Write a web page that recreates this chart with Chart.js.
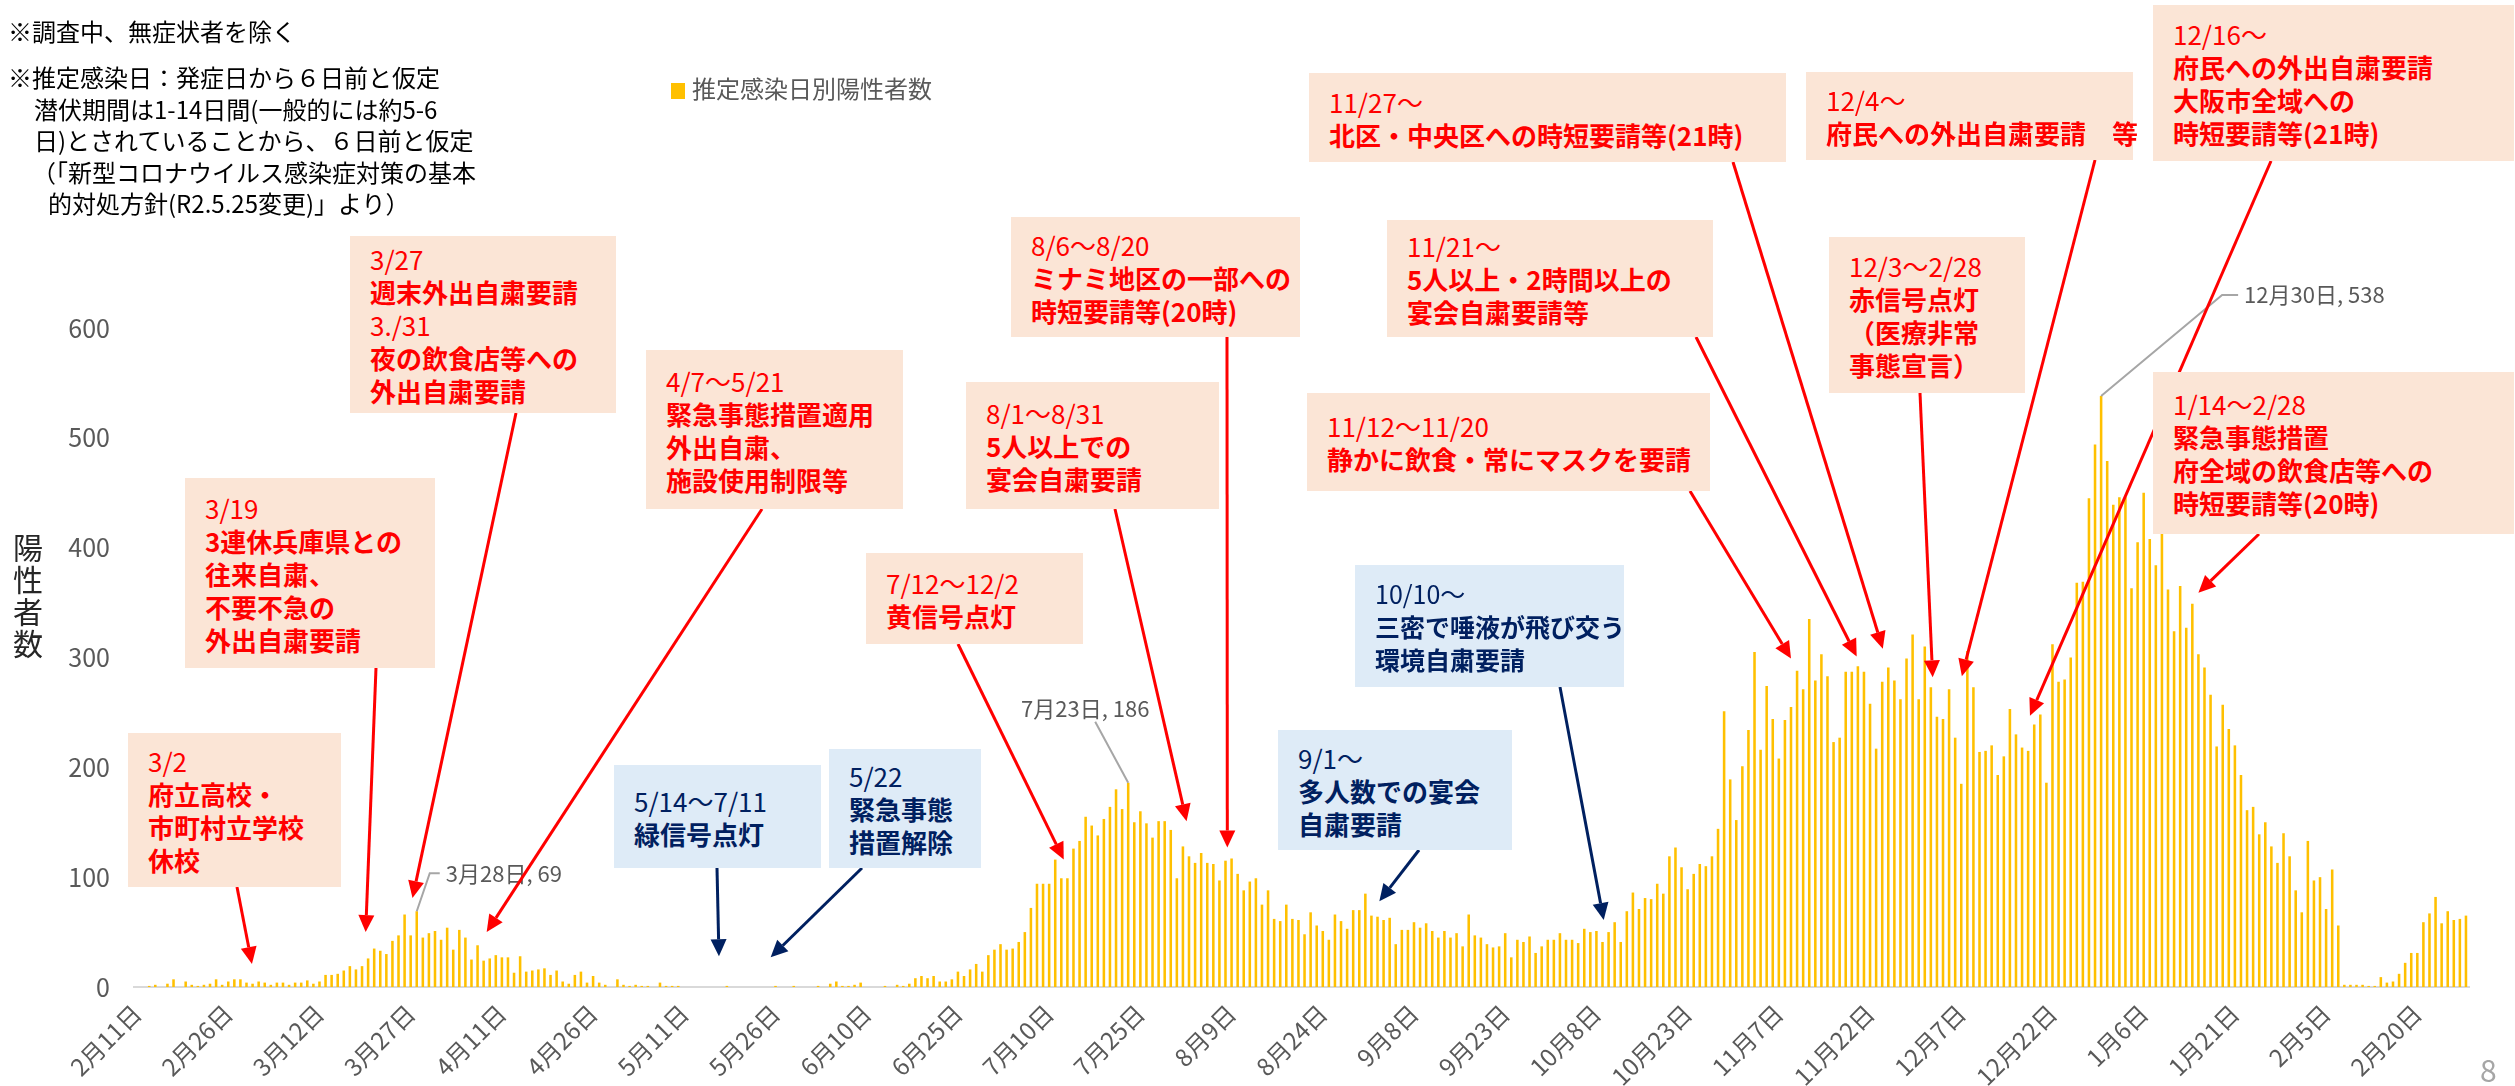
<!DOCTYPE html>
<html lang="ja">
<head>
<meta charset="utf-8">
<title>推定感染日別陽性者数</title>
<script src="https://cdn.jsdelivr.net/npm/chart.js@4.4.1/dist/chart.umd.min.js"></script>
<style>
  html, body { margin: 0; padding: 0; background: #fff; }
  #wrap { position: relative; width: 2515px; height: 1086px; overflow: hidden; font-family: 'Noto Sans CJK JP', sans-serif; }
  #chart { position: absolute; left: 0; top: 0; }
  .note { position: absolute; font-size: 24px; line-height: 30px; color: #000; white-space: nowrap; }
  .box { position: absolute; box-sizing: border-box; padding: 0 0 0 20px; display: flex; flex-direction: column; justify-content: center; font-size: 26px; line-height: 33px; white-space: nowrap; }
  .box.red { background: #FBE5D6; color: #FF0000; }
  .box.blue { background: #DEEBF7; color: #002060; }
  .box span { font-weight: 700; }
  .box span.date { font-weight: 400; }
  #legend { position: absolute; left: 671px; top: 73px; font-size: 24px; line-height: 30px; color: #595959; white-space: nowrap; }
  #legend i { display: inline-block; width: 14px; height: 16px; background: #FFC000; margin-right: 7px; vertical-align: -1px; }
  #ytitle { position: absolute; left: 12px; top: 530px; width: 32px; font-size: 30px; line-height: 32px; color: #262626; text-align: center; }
  #page { position: absolute; left: 2480px; top: 1052px; font-size: 30px; line-height: 34px; color: #A6A6A6; }
</style>
</head>
<body>
<div id="wrap">
  <canvas id="chart" width="2515" height="1086"></canvas>

  <div class="note" style="left:8px; top:16px;">※調査中、無症状者を除く</div>
  <div class="note" style="left:8px; top:62px;">※推定感染日：発症日から６日前と仮定</div>
  <div class="note" style="left:34px; top:94px;">潜伏期間は1-14日間(一般的には約5-6</div>
  <div class="note" style="left:34px; top:125px;">日)とされていることから、６日前と仮定</div>
  <div class="note" style="left:32px; top:157px;">（「新型コロナウイルス感染症対策の基本</div>
  <div class="note" style="left:48px; top:188px;">的対処方針(R2.5.25変更)」より）</div>

  <div id="legend"><i></i>推定感染日別陽性者数</div>
  <div id="ytitle">陽<br>性<br>者<br>数</div>
  <div id="page">8</div>
  <div id="boxes"></div>
</div>

<script>
(function(){
  // 推定感染日別陽性者数 (2020/2/11 - 2021/2/28), one array per month
  const feb20 = [0, 0, 1, 2, 0, 3, 7, 0, 5, 2, 1, 2, 3, 7, 2, 5, 7, 7, 4];
  const mar20 = [3, 5, 4, 2, 4, 4, 2, 4, 4, 6, 3, 5, 11, 11, 12, 15, 19, 16, 19, 26, 35, 33, 30, 42, 47, 66, 47, 69, 45, 49, 51];
  const apr20 = [43, 54, 34, 52, 45, 25, 38, 24, 26, 29, 27, 27, 13, 28, 14, 15, 16, 17, 11, 15, 5, 3, 11, 14, 4, 10, 4, 2, 0, 7];
  const may20 = [2, 1, 2, 1, 1, 0, 4, 1, 1, 1, 0, 0, 0, 0, 0, 0, 0, 1, 0, 0, 0, 0, 0, 0, 0, 1, 0, 0, 1, 0, 0];
  const jun20 = [0, 1, 0, 3, 5, 1, 1, 2, 4, 0, 0, 0, 1, 0, 2, 1, 3, 8, 10, 8, 10, 5, 5, 7, 14, 10, 16, 21, 14, 29];
  const jul20 = [34, 39, 34, 35, 41, 50, 72, 94, 94, 94, 116, 99, 99, 126, 133, 155, 147, 138, 153, 164, 180, 162, 186, 150, 160, 149, 136, 151, 151, 143, 99];
  const aug20 = [128, 119, 113, 122, 113, 112, 97, 115, 117, 103, 88, 96, 99, 75, 88, 62, 60, 75, 62, 61, 48, 68, 56, 51, 43, 66, 60, 53, 70, 70, 85];
  const sep20 = [65, 64, 61, 63, 39, 52, 52, 59, 54, 58, 51, 45, 51, 45, 49, 37, 66, 47, 45, 39, 36, 37, 49, 27, 43, 41, 46, 31, 37, 43];
  const oct20 = [43, 49, 43, 43, 40, 53, 50, 51, 41, 50, 59, 41, 69, 86, 71, 81, 80, 94, 85, 119, 127, 109, 89, 103, 112, 110, 119, 144, 251, 189, 152];
  const nov20 = [201, 234, 305, 216, 274, 244, 208, 243, 255, 288, 271, 335, 279, 303, 283, 223, 227, 287, 287, 292, 287, 258, 217, 278, 291, 279, 262, 299, 321, 262];
  const dec20 = [310, 273, 246, 244, 271, 227, 185, 306, 273, 214, 215, 220, 193, 210, 253, 230, 218, 215, 239, 248, 186, 312, 278, 280, 300, 368, 369, 445, 494, 538, 479];
  const jan21 = [439, 446, 446, 363, 405, 450, 408, 384, 415, 362, 324, 365, 327, 349, 303, 291, 266, 219, 257, 235, 220, 193, 161, 164, 139, 150, 128, 113, 140, 119, 88];
  const feb21 = [68, 133, 97, 100, 71, 107, 56, 2, 2, 2, 2, 1, 1, 9, 4, 5, 12, 22, 31, 31, 59, 67, 82, 58, 69, 61, 62, 65];

  // month, first day, last day
  const monthSpans = [[2, 11, 29], [3, 1, 31], [4, 1, 30], [5, 1, 31], [6, 1, 30], [7, 1, 31], [8, 1, 31],
                      [9, 1, 30], [10, 1, 31], [11, 1, 30], [12, 1, 31], [1, 1, 31], [2, 1, 28]];
  const yTicks = [0, 100, 200, 300, 400, 500, 600];
  const tickEvery = 15;

  const values = [].concat(feb20, mar20, apr20, may20, jun20, jul20, aug20, sep20, oct20, nov20, dec20, jan21, feb21);
  const labels = [];
  monthSpans.forEach(([m, d0, d1]) => {
    for (let d = d0; d <= d1; d++) labels.push(m + '月' + d + '日');
  });

  // labelled bars
  const callouts = [
    { date: '3月28日', dx: 13, dy: -38, run: 10, side: 'right' },
    { date: '7月23日', dx: -33, dy: -61, side: 'above' },
    { date: '12月30日', dx: 121, dy: -101, run: 16, side: 'right' }
  ];

  // text boxes: first line is the date (regular), rest bold. arrow: from box edge (px) to category index / value
  const notes = [
    { kind: 'red', box: [128, 733, 213, 154], lines: ['3/2', '府立高校・', '市町村立学校', '休校'], from: [237, 887], to: [18.9, 21] },
    { kind: 'red', box: [185, 478, 250, 190], lines: ['3/19', '3連休兵庫県との', '往来自粛、', '不要不急の', '外出自粛要請'], from: [376, 668], to: [37.6, 50] },
    { kind: 'red', box: [350, 236, 266, 177], lines: ['3/27', '週末外出自粛要請', '3./31', '夜の飲食店等への', '外出自粛要請'], dates: [0, 2], from: [516, 413], to: [45.3, 81] },
    { kind: 'red', box: [646, 350, 257, 159], lines: ['4/7～5/21', '緊急事態措置適用', '外出自粛、', '施設使用制限等'], from: [762, 509], to: [57.5, 50] },
    { kind: 'blue', box: [614, 765, 207, 103], lines: ['5/14～7/11', '緑信号点灯'], from: [717, 868], to: [95.7, 28] },
    { kind: 'blue', box: [829, 749, 152, 119], lines: ['5/22', '緊急事態', '措置解除'], from: [862, 868], to: [104.2, 27] },
    { kind: 'red', box: [866, 553, 217, 91], lines: ['7/12～12/2', '黄信号点灯'], from: [958, 644], to: [152.4, 116] },
    { kind: 'red', box: [966, 382, 253, 127], lines: ['8/1～8/31', '5人以上での', '宴会自粛要請'], from: [1115, 509], to: [172.6, 151] },
    { kind: 'red', box: [1011, 217, 289, 120], lines: ['8/6～8/20', 'ミナミ地区の一部への', '時短要請等(20時)'], from: [1227, 337], to: [179.3, 127] },
    { kind: 'blue', box: [1278, 730, 234, 120], lines: ['9/1～', '多人数での宴会', '自粛要請'], from: [1419, 850], to: [204.3, 78] },
    { kind: 'blue', box: [1355, 565, 269, 122], lines: ['10/10～', '三密で唾液が飛び交う', '環境自粛要請'], size: 25, from: [1560, 687], to: [241.2, 61] },
    { kind: 'red', box: [1307, 393, 403, 98], lines: ['11/12～11/20', '静かに飲食・常にマスクを要請'], from: [1690, 491], to: [272.0, 299] },
    { kind: 'red', box: [1387, 220, 326, 117], lines: ['11/21～', '5人以上・2時間以上の', '宴会自粛要請等'], from: [1696, 337], to: [282.8, 301] },
    { kind: 'red', box: [1309, 73, 477, 89], lines: ['11/27～', '北区・中央区への時短要請等(21時)'], from: [1733, 162], to: [287.1, 308] },
    { kind: 'red', box: [1806, 72, 327, 88], lines: ['12/4～', '府民への外出自粛要請　等'], from: [2095, 160], to: [300.1, 283] },
    { kind: 'red', box: [1829, 237, 196, 156], lines: ['12/3～2/28', '赤信号点灯', '（医療非常', '事態宣言）'], from: [1920, 393], to: [295.3, 282] },
    { kind: 'red', box: [2153, 5, 361, 156], lines: ['12/16～', '府民への外出自粛要請', '大阪市全域への', '時短要請等(21時)'], from: [2271, 161], to: [311.3, 247] },
    { kind: 'red', box: [2153, 372, 361, 162], lines: ['1/14～2/28', '緊急事態措置', '府全域の飲食店等への', '時短要請等(20時)'], from: [2259, 534], to: [339, 359] }
  ];

  const FONT = "'Noto Sans CJK JP', sans-serif";

  function buildBoxes() {
    const host = document.getElementById('boxes');
    host.innerHTML = notes.map(n => {
      const [l, t, w, h] = n.box;
      const dates = n.dates || [0];
      const rows = n.lines.map((s, k) => `<span class="${dates.includes(k) ? 'date' : ''}">${s}</span>`).join('');
      const fs = n.size ? `font-size:${n.size}px;` : '';
      return `<div class="box ${n.kind}" style="left:${l}px;top:${t}px;width:${w}px;height:${h}px;${fs}">${rows}</div>`;
    }).join('');
  }

  function drawArrow(ctx, x0, y0, x1, y1, color) {
    const ang = Math.atan2(y1 - y0, x1 - x0);
    const headLen = 17, headHalf = 8;
    const bx = x1 - headLen * Math.cos(ang), by = y1 - headLen * Math.sin(ang);
    ctx.save();
    ctx.strokeStyle = color;
    ctx.fillStyle = color;
    ctx.lineWidth = 3;
    ctx.beginPath();
    ctx.moveTo(x0, y0);
    ctx.lineTo(bx, by);
    ctx.stroke();
    ctx.beginPath();
    ctx.moveTo(x1, y1);
    ctx.lineTo(bx + headHalf * Math.sin(ang), by - headHalf * Math.cos(ang));
    ctx.lineTo(bx - headHalf * Math.sin(ang), by + headHalf * Math.cos(ang));
    ctx.closePath();
    ctx.fill();
    ctx.restore();
  }

  const overlayPlugin = {
    id: 'overlay',
    afterDatasetsDraw(chart) {
      const ctx = chart.ctx;
      const xs = chart.scales.x, ys = chart.scales.y;

      // callouts for labelled bars
      ctx.save();
      ctx.font = '22px ' + FONT;
      ctx.fillStyle = '#595959';
      ctx.strokeStyle = '#A6A6A6';
      ctx.lineWidth = 2;
      callouts.forEach(c => {
        const idx = labels.indexOf(c.date);
        const v = values[idx];
        const x = xs.getPixelForValue(idx), y = ys.getPixelForValue(v);
        const ex = x + c.dx, ey = y + c.dy;
        ctx.beginPath();
        ctx.moveTo(x, y);
        ctx.lineTo(ex, ey);
        if (c.side === 'right') ctx.lineTo(ex + c.run, ey);
        ctx.stroke();
        const txt = c.date + ', ' + v;
        if (c.side === 'right') {
          ctx.textAlign = 'left';
          ctx.textBaseline = 'middle';
          ctx.fillText(txt, ex + c.run + 6, ey);
        } else {
          ctx.textAlign = 'center';
          ctx.textBaseline = 'bottom';
          ctx.fillText(txt, ex - 10, ey - 2);
        }
      });
      ctx.restore();

      // arrows from the text boxes
      notes.forEach(n => {
        const color = n.kind === 'red' ? '#FF0000' : '#002060';
        drawArrow(ctx, n.from[0], n.from[1], xs.getPixelForValue(n.to[0]), ys.getPixelForValue(n.to[1]), color);
      });
    }
  };

  function renderChart() {
    const ctx = document.getElementById('chart').getContext('2d');
    new Chart(ctx, {
      type: 'bar',
      data: {
        labels: labels,
        datasets: [{
          label: '推定感染日別陽性者数',
          data: values,
          backgroundColor: '#FFC000',
          barPercentage: 0.42,
          categoryPercentage: 1.0
        }]
      },
      options: {
        responsive: false,
        devicePixelRatio: 1,
        animation: false,
        layout: { padding: { left: 0, right: 46, top: 328, bottom: 0 } },
        plugins: {
          legend: { display: false },
          tooltip: { enabled: false }
        },
        scales: {
          x: {
            grid: { display: false, drawTicks: false },
            border: { display: true, color: '#D9D9D9', width: 2 },
            afterFit: (scale) => { scale.height = 99; },
            ticks: {
              autoSkip: false,
              minRotation: 45,
              maxRotation: 45,
              padding: 12,
              color: '#595959',
              font: { family: FONT, size: 24 },
              callback: (val, idx) => idx % tickEvery === 0 ? labels[idx] : ''
            }
          },
          y: {
            min: yTicks[0],
            max: yTicks[yTicks.length - 1],
            grid: { display: false, drawTicks: false },
            border: { display: false },
            afterFit: (scale) => { scale.width = 134; },
            afterBuildTicks: (scale) => { scale.ticks = yTicks.map(v => ({ value: v })); },
            ticks: {
              padding: 24,
              color: '#595959',
              font: { family: FONT, size: 25 }
            }
          }
        }
      },
      plugins: [overlayPlugin]
    });
  }

  buildBoxes();
  renderChart();
})();
</script>
</body>
</html>
